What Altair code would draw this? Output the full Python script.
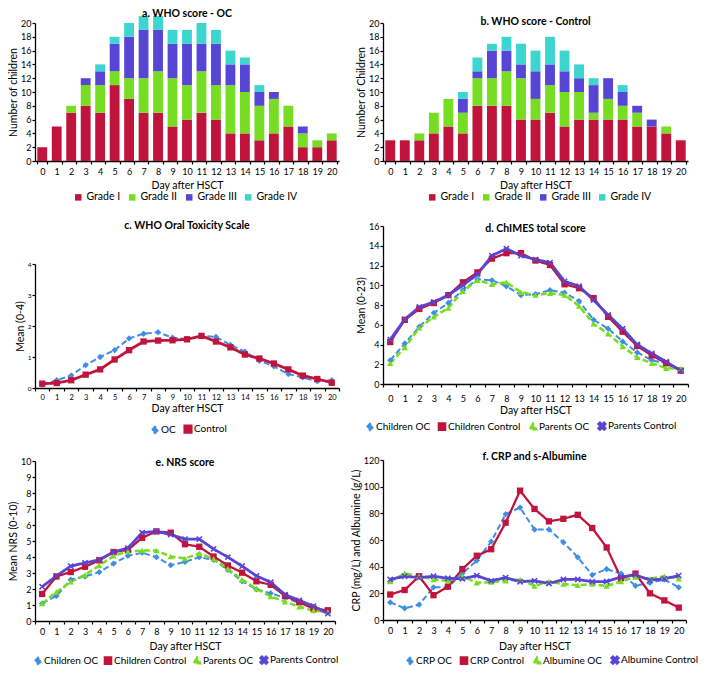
import altair as alt
import pandas as pd

FONT = "Lato"
days = list(range(21))

# ---------- a. WHO score - OC (number of children per grade) ----------
a_grade1 = [2, 5, 7, 8, 7, 11, 9, 7, 7, 5, 6, 7, 6, 4, 4, 3, 4, 5, 2, 2, 3]
a_grade2 = [0, 0, 1, 3, 4, 2, 3, 5, 6, 7, 5, 6, 5, 7, 6, 5, 5, 3, 2, 1, 1]
a_grade3 = [0, 0, 0, 1, 2, 4, 6, 7, 6, 5, 6, 4, 6, 3, 4, 2, 1, 0, 1, 0, 0]
a_grade4 = [0, 0, 0, 0, 1, 1, 2, 2, 2, 2, 2, 3, 2, 2, 1, 1, 0, 0, 0, 0, 0]

# ---------- b. WHO score - Control ----------
b_grade1 = [3, 3, 3, 4, 5, 4, 8, 8, 8, 6, 6, 7, 5, 6, 6, 6, 6, 5, 5, 4, 3]
b_grade2 = [0, 0, 1, 3, 4, 3, 4, 4, 5, 6, 3, 4, 5, 4, 1, 3, 2, 2, 0, 1, 0]
b_grade3 = [0, 0, 0, 0, 0, 2, 1, 4, 3, 2, 4, 3, 3, 2, 4, 3, 2, 1, 1, 0, 0]
b_grade4 = [0, 0, 0, 0, 0, 1, 2, 1, 2, 3, 3, 4, 3, 2, 1, 0, 1, 0, 0, 0, 0]

grades = ["Grade I", "Grade II", "Grade III", "Grade IV"]

# ---------- c. WHO Oral Toxicity Scale (mean 0-4) ----------
c_oc = [0.10, 0.25, 0.40, 0.74, 1.00, 1.22, 1.60, 1.75, 1.80, 1.62, 1.58, 1.68,
        1.65, 1.39, 1.17, 0.88, 0.70, 0.45, 0.34, 0.22, 0.25]
c_control = [0.14, 0.16, 0.25, 0.43, 0.60, 0.92, 1.22, 1.50, 1.53, 1.54, 1.57, 1.68,
             1.50, 1.31, 1.08, 0.95, 0.79, 0.60, 0.40, 0.29, 0.17]

# ---------- d. ChIMES total score (mean 0-23) ----------
d_children_oc = [2.4, 4.1, 5.8, 7.2, 8.2, 9.5, 10.6, 10.5, 9.9, 9.0, 9.1, 9.5,
                 9.25, 8.4, 6.5, 5.6, 4.3, 3.2, 2.4, 2.1, 1.35]
d_children_control = [4.25, 6.5, 7.6, 8.2, 9.0, 10.3, 11.3, 12.7, 13.25, 13.25, 12.5, 12.05,
                      10.1, 9.7, 8.7, 6.8, 5.3, 3.85, 2.9, 2.1, 1.35]
d_parents_oc = [2.1, 3.7, 5.7, 6.8, 7.7, 9.4, 10.5, 10.1, 10.3, 9.3, 9.0, 9.2,
                9.0, 7.9, 6.1, 5.1, 3.8, 2.7, 2.1, 1.6, 1.55]
d_parents_control = [4.5, 6.55, 7.8, 8.3, 9.0, 10.0, 11.1, 13.0, 13.7, 13.0, 12.6, 12.3,
                     10.4, 9.9, 8.5, 7.0, 5.6, 4.0, 3.1, 2.25, 1.35]

# ---------- e. NRS score (mean 0-10) ----------
e_children_oc = [1.1, 1.57, 2.58, 2.78, 3.06, 3.59, 4.07, 4.27, 3.99, 3.49, 3.69, 3.99,
                 3.83, 3.19, 2.48, 1.98, 1.73, 1.45, 1.13, 0.89, 0.56]
e_children_control = [1.69, 2.78, 3.06, 3.39, 3.79, 4.31, 4.44, 5.2, 5.6, 5.52, 4.8, 4.64,
                      4.03, 3.47, 3.02, 2.48, 2.26, 1.57, 1.17, 0.77, 0.67]
e_parents_oc = [1.1, 1.81, 2.46, 2.88, 3.47, 4.07, 4.35, 4.4, 4.4, 4.03, 3.91, 4.23,
                3.89, 3.27, 2.58, 2.02, 1.53, 1.21, 0.89, 0.65, 0.56]
e_parents_control = [2.14, 2.82, 3.43, 3.63, 3.83, 4.31, 4.56, 5.52, 5.6, 5.4, 5.12, 5.12,
                     4.5, 3.99, 3.43, 2.82, 2.42, 1.65, 1.29, 0.93, 0.46]

# ---------- f. CRP and s-Albumine ----------
f_crp_oc = [13.2, 8.8, 11.5, 24.5, 24.5, 35.0, 44.6, 58.8, 79.4, 84.3, 67.8, 67.8,
            58.3, 47.0, 33.8, 38.2, 34.8, 25.7, 27.9, 30.4, 24.5]
f_crp_control = [19.1, 22.5, 32.8, 18.6, 25.0, 38.2, 48.2, 53.1, 73.0, 97.0, 83.3, 74.0,
                 75.9, 78.9, 69.0, 54.4, 31.3, 34.8, 20.0, 14.7, 9.3]
f_alb_oc = [28.9, 35.0, 32.8, 30.4, 29.4, 32.8, 27.9, 28.4, 29.4, 30.4, 25.5, 28.9,
            26.9, 26.0, 26.9, 25.5, 28.9, 32.3, 30.9, 32.8, 30.9]
f_alb_control = [30.4, 32.8, 31.8, 32.8, 31.3, 30.9, 33.3, 29.4, 31.8, 28.7, 29.4, 27.4,
                 30.4, 30.4, 28.7, 28.9, 32.3, 33.8, 29.9, 30.9, 33.3]

# ---------- styles ----------
RED = "#C0143C"
GREEN = "#77DD22"
PURPLE = "#5746D6"
CYAN = "#3DD5D0"
BLUE = "#3E8EE6"
grade_colors = [RED, GREEN, PURPLE, CYAN]
X_SHAPE = ("M-1,-0.65L-0.65,-1L0,-0.35L0.65,-1L1,-0.65L0.35,0L1,0.65L0.65,1"
           "L0,0.35L-0.65,1L-1,0.65L-0.35,0Z")
four_colors = [BLUE, RED, GREEN, PURPLE]
four_shapes = ["diamond", "square", "triangle-up", X_SHAPE]
four_dashes = [[6, 3], [1, 0], [6, 3], [1, 0]]
four_widths = [2.0, 2.8, 2.0, 2.4]


def x_axis(label_size, label_pad, title_pad):
    return alt.Axis(title="Day after HSCT", labelAngle=0, tickBand="extent",
                    labelFontSize=label_size, labelPadding=label_pad,
                    titlePadding=title_pad, titleFontSize=10.5, tickSize=3)


def y_axis(title, values, label_size, title_pad=2):
    return alt.Axis(title=title, values=values, labelFontSize=label_size,
                    titleFontSize=10.5, titlePadding=title_pad, tickSize=3,
                    labelPadding=1, grid=False)


def title_params(text, offset, dy):
    if dy:
        return alt.TitleParams(text, frame="group", offset=offset, dy=dy)
    return alt.TitleParams(text, frame="group", offset=offset)


def bar_panel(title, g1, g2, g3, g4, ytitle, w, h, title_off, title_dy, lx, ly):
    rows = []
    for gi, (name, vals) in enumerate(zip(grades, [g1, g2, g3, g4])):
        for d, v in zip(days, vals):
            rows.append({"day": d, "grade": name, "n": v, "ord": gi})
    df = pd.DataFrame(rows)
    return alt.Chart(df).mark_bar(clip=False).encode(
        x=alt.X("day:O", scale=alt.Scale(paddingInner=0.32, paddingOuter=0.16),
                axis=x_axis(9, 3, 4)),
        y=alt.Y("n:Q", stack="zero", scale=alt.Scale(domain=[0, 20], nice=False),
                axis=y_axis(ytitle, list(range(0, 21, 2)), 9)),
        color=alt.Color("grade:N", title=None,
                        scale=alt.Scale(domain=grades, range=grade_colors),
                        legend=alt.Legend(orient="none", legendX=lx, legendY=ly,
                                          direction="horizontal", symbolType="square",
                                          symbolSize=42, labelFontSize=10.5,
                                          columnPadding=6, labelOffset=3,
                                          symbolStrokeWidth=0)),
        order=alt.Order("ord:Q", sort="ascending"),
    ).properties(width=w, height=h, title=title_params(title, title_off, title_dy))


def line_panel(title, names, series, ytitle, ydom, yvals, ylab, xlab, xlabpad,
               xtitlepad, w, h, title_off, title_dy, lx, ly, legend_pad=3):
    rows = []
    for name, vals in zip(names, series):
        for d, v in zip(days, vals):
            rows.append({"day": d, "s": name, "v": v})
    df = pd.DataFrame(rows)
    n = len(names)
    leg = alt.Legend(orient="none", legendX=lx, legendY=ly, direction="horizontal",
                     symbolSize=40, labelFontSize=10, columnPadding=legend_pad,
                     labelOffset=1, symbolStrokeWidth=0)
    base = alt.Chart(df).encode(
        x=alt.X("day:O", bandPosition=0.5,
                scale=alt.Scale(type="band", paddingInner=0, paddingOuter=0),
                axis=x_axis(xlab, xlabpad, xtitlepad)),
        y=alt.Y("v:Q", scale=alt.Scale(domain=ydom, nice=False),
                axis=y_axis(ytitle, yvals, ylab)),
    )
    line = base.mark_line().encode(
        color=alt.Color("s:N", title=None,
                        scale=alt.Scale(domain=names, range=four_colors[:n]),
                        legend=leg),
        strokeDash=alt.StrokeDash("s:N", scale=alt.Scale(domain=names,
                                                        range=four_dashes[:n]),
                                  legend=None),
        strokeWidth=alt.StrokeWidth("s:N", scale=alt.Scale(domain=names,
                                                          range=four_widths[:n]),
                                    legend=None),
    )
    pts = base.mark_point(filled=True, size=40, opacity=1).encode(
        color=alt.Color("s:N", title=None,
                        scale=alt.Scale(domain=names, range=four_colors[:n]),
                        legend=leg),
        shape=alt.Shape("s:N", title=None,
                        scale=alt.Scale(domain=names, range=four_shapes[:n]),
                        legend=leg),
    )
    return alt.layer(line, pts).properties(
        width=w, height=h, title=title_params(title, title_off, title_dy))


chart_a = bar_panel("a. WHO score - OC", a_grade1, a_grade2, a_grade3, a_grade4,
                    "Number of children", 304, 138, -3, 0, 38, 138 + 31)
chart_b = bar_panel("b. WHO score - Control", b_grade1, b_grade2, b_grade3, b_grade4,
                    "Number of Children", 305, 138, -8, 0, 44, 138 + 31)

chart_c = line_panel("c. WHO Oral Toxicity Scale", ["OC", "Control"], [c_oc, c_control],
                     "Mean (0-4)", [0, 4], [0, 1, 2, 3, 4], 6.5, 7.5, 2, 3,
                     304, 124, 30, 0, 115, 124 + 36)
chart_d = line_panel("d. ChIMES total score",
                     ["Children OC", "Children Control", "Parents OC", "Parents Control"],
                     [d_children_oc, d_children_control, d_parents_oc, d_parents_control],
                     "Mean (0-23)", [0, 16], list(range(0, 17, 2)), 9, 9, 7, 2,
                     305, 158, -12, 0, -18, 158 + 37)
chart_e = line_panel("e. NRS score",
                     ["Children OC", "Children Control", "Parents OC", "Parents Control"],
                     [e_children_oc, e_children_control, e_parents_oc, e_parents_control],
                     "Mean NRS (0-10)", [0, 10], list(range(0, 11)), 9, 9, 3, 5,
                     300, 160, 0, 11, -2, 160 + 34, legend_pad=1)
chart_f = line_panel("f. CRP and s-Albumine",
                     ["CRP OC", "CRP Control", "Albumine OC", "Albumine Control"],
                     [f_crp_oc, f_crp_control, f_alb_oc, f_alb_control],
                     "CRP (mg/L) and  Albumine (g/L)", [0, 120], list(range(0, 121, 20)),
                     9, 9, 3, 6, 303, 160, -6, 0, 22, 160 + 35, legend_pad=3)


def indep(ch):
    return ch.resolve_scale(color="independent", shape="independent",
                            strokeDash="independent", strokeWidth="independent",
                            x="independent", y="independent").resolve_legend(
        color="independent", shape="independent", strokeDash="independent",
        strokeWidth="independent")


left = indep(alt.vconcat(chart_a, indep(alt.vconcat(chart_c, chart_e, spacing=17)),
                         spacing=16))
right = indep(alt.vconcat(chart_b, indep(alt.vconcat(chart_d, chart_f, spacing=15)),
                          spacing=17))

chart = indep(alt.hconcat(left, right, spacing=9)).properties(padding=0).configure(
    font=FONT
).configure_view(stroke="transparent").configure_axis(
    domainColor="#000000", tickColor="#000000", labelColor="#000000",
    titleColor="#000000", labelFont=FONT, titleFont=FONT, titleFontWeight="normal",
    domainWidth=1.3, tickWidth=1.2
).configure_title(
    font=FONT, fontSize=10.5, fontWeight="bold", color="#000000", anchor="middle"
).configure_legend(
    labelFont=FONT, labelColor="#000000"
)

chart.save("out.html", embed_options={"renderer": "svg", "actions": False})
